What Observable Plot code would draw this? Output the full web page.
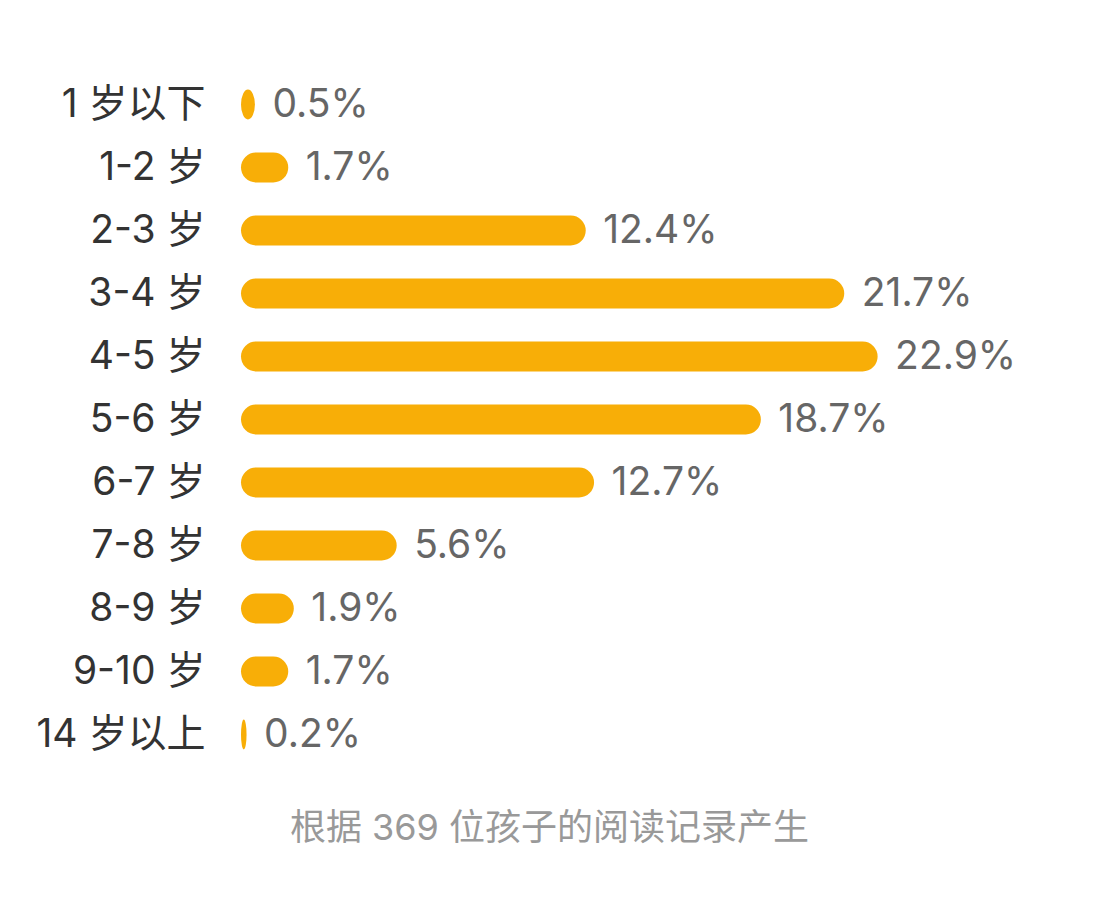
<!DOCTYPE html>
<html>
<head>
<meta charset="utf-8">
<script src="https://cdn.jsdelivr.net/npm/d3@7"></script>
<script src="https://cdn.jsdelivr.net/npm/@observablehq/plot@0.6"></script>
<style>
  html, body { margin: 0; padding: 0; background: #fff; }
  #wrap { width: 1099px; }
  #caption {
    font-family: Inter, "Noto Sans CJK SC", sans-serif;
    font-size: 36px;
    color: #999;
    text-align: center;
    width: 1099px;
    margin-top: 8px;
    padding-right: 0px;
    box-sizing: border-box;
  }
  svg { display: block; }
</style>
</head>
<body>
<div id="wrap"></div>
<div id="caption">根据 369 位孩子的阅读记录产生</div>
<script>
const ages = ["1 岁以下", "1-2 岁", "2-3 岁", "3-4 岁", "4-5 岁", "5-6 岁", "6-7 岁", "7-8 岁", "8-9 岁", "9-10 岁", "14 岁以上"];
const shares = [0.5, 1.7, 12.4, 21.7, 22.9, 18.7, 12.7, 5.6, 1.9, 1.7, 0.2];

const data = ages.map((age, i) => ({age, share: shares[i]}));

const chart = Plot.plot({
  width: 1099,
  height: 790,
  marginLeft: 241,
  marginRight: 163,
  marginTop: 0,
  marginBottom: 0,
  style: {fontFamily: "Inter, 'Noto Sans CJK SC', sans-serif", background: "#fff"},
  x: {domain: [0, 25], axis: null},
  y: {domain: ages, range: [72.5, 765.5], padding: 0, label: null},
  marks: [
    Plot.barX(data, {x: "share", y: "age", fill: "#F8AE07", insetTop: 16.5, insetBottom: 16.5, rx: 15}),
    Plot.text(data, {x: "share", y: "age", text: d => d.share.toFixed(1) + "%", textAnchor: "start", dx: 17, fill: "#666", fontSize: 39}),
    Plot.axisY({tickSize: 0, tickPadding: 36, fontSize: 39, color: "#333", label: null})
  ]
});
document.getElementById("wrap").appendChild(chart);
</script>
</body>
</html>
